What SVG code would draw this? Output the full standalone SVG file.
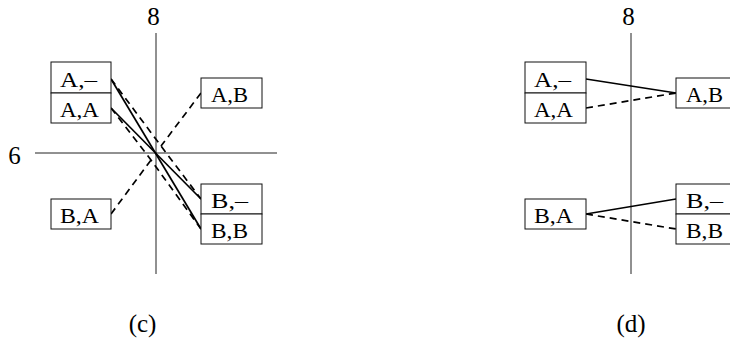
<svg xmlns="http://www.w3.org/2000/svg" width="730" height="341" viewBox="0 0 730 341">
<style>
.axis{stroke:#222;stroke-width:1;fill:none}
.box{fill:#fff;stroke:#111;stroke-width:1}
.lbl{font-family:"Liberation Serif","Times New Roman",serif;font-size:22px;fill:#000}
.num{font-family:"Liberation Serif","Times New Roman",serif;font-size:25px;fill:#000;text-anchor:middle}
.solid{stroke:#000;stroke-width:1.7;fill:none}
.dash{stroke:#000;stroke-width:1.7;fill:none;stroke-dasharray:7 5}
</style>
<rect width="730" height="341" fill="#fff"/>
<g id="axes">
<line class="axis" x1="156" y1="33" x2="156" y2="274"/>
<line class="axis" x1="35" y1="153" x2="277" y2="153"/>
<line class="axis" x1="631" y1="33" x2="631" y2="274"/>
<text class="num" x="153.5" y="25">8</text>
<text class="num" x="14.5" y="164">6</text>
<text class="num" x="628.5" y="25">8</text>
<text class="num" x="142.5" y="332">(c)</text>
<text class="num" x="631" y="332">(d)</text>
</g>
<g id="connectors">
<line class="solid" x1="111" y1="79" x2="201" y2="229"/>
<line class="solid" x1="111" y1="108" x2="201" y2="199"/>
<polyline class="dash" points="111,79 161,146 201,199"/>
<polyline class="dash" points="201,93 161,146"/>
<polyline class="dash" points="111,108 151,160 201,229"/>
<polyline class="dash" points="111,214 151,160"/>
<line class="solid" x1="586" y1="79" x2="676" y2="93"/>
<line class="dash" x1="586" y1="108" x2="676" y2="93"/>
<line class="solid" x1="586" y1="214" x2="676" y2="199"/>
<line class="dash" x1="586" y1="214" x2="676" y2="229"/>
</g>
<g id="c-A-dash"><rect class="box" x="51" y="62" width="60" height="31"/><text class="lbl" x="60" y="87" textLength="37" lengthAdjust="spacingAndGlyphs">A,–</text></g>
<g id="c-A-A"><rect class="box" x="51" y="93" width="60" height="30"/><text class="lbl" x="60" y="117" textLength="39" lengthAdjust="spacingAndGlyphs">A,A</text></g>
<g id="c-A-B"><rect class="box" x="201" y="78" width="61" height="30"/><text class="lbl" x="211" y="102" textLength="37" lengthAdjust="spacingAndGlyphs">A,B</text></g>
<g id="c-B-dash"><rect class="box" x="201" y="184" width="61" height="30"/><text class="lbl" x="211" y="208" textLength="37" lengthAdjust="spacingAndGlyphs">B,–</text></g>
<g id="c-B-B"><rect class="box" x="201" y="214" width="61" height="30"/><text class="lbl" x="211" y="238" textLength="37" lengthAdjust="spacingAndGlyphs">B,B</text></g>
<g id="c-B-A"><rect class="box" x="51" y="199" width="60" height="30"/><text class="lbl" x="60" y="223" textLength="39" lengthAdjust="spacingAndGlyphs">B,A</text></g>
<g id="d-A-dash"><rect class="box" x="525" y="62" width="61" height="31"/><text class="lbl" x="534" y="87" textLength="37" lengthAdjust="spacingAndGlyphs">A,–</text></g>
<g id="d-A-A"><rect class="box" x="525" y="93" width="61" height="30"/><text class="lbl" x="534" y="117" textLength="39" lengthAdjust="spacingAndGlyphs">A,A</text></g>
<g id="d-A-B"><rect class="box" x="676" y="78" width="61" height="30"/><text class="lbl" x="686" y="102" textLength="37" lengthAdjust="spacingAndGlyphs">A,B</text></g>
<g id="d-B-dash"><rect class="box" x="676" y="184" width="61" height="30"/><text class="lbl" x="686" y="208" textLength="37" lengthAdjust="spacingAndGlyphs">B,–</text></g>
<g id="d-B-B"><rect class="box" x="676" y="214" width="61" height="30"/><text class="lbl" x="686" y="238" textLength="37" lengthAdjust="spacingAndGlyphs">B,B</text></g>
<g id="d-B-A"><rect class="box" x="525" y="199" width="61" height="30"/><text class="lbl" x="534" y="223" textLength="39" lengthAdjust="spacingAndGlyphs">B,A</text></g>
</svg>
